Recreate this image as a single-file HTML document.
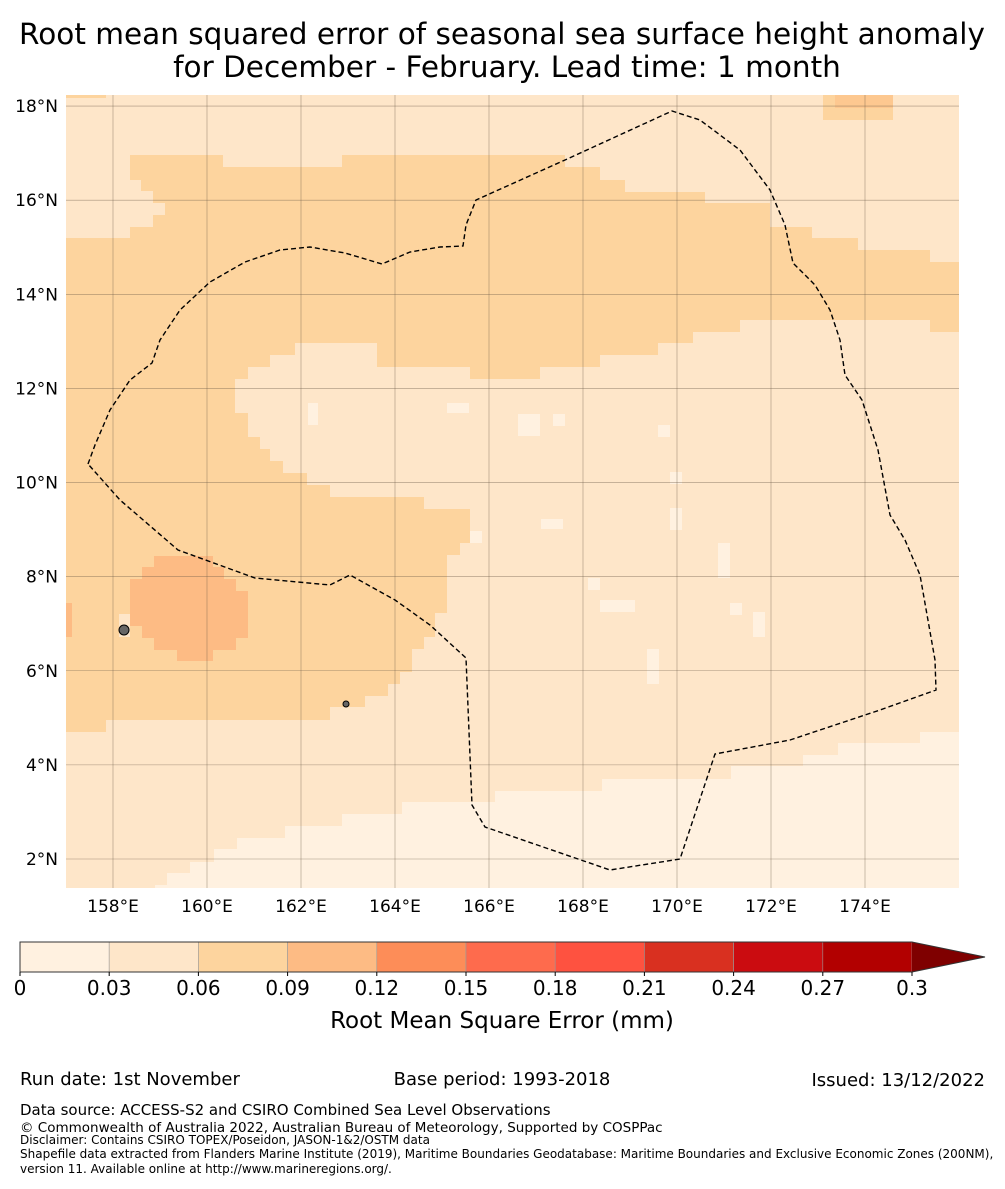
<!DOCTYPE html>
<html><head><meta charset="utf-8">
<style>
body{margin:0;background:#fff;width:1005px;height:1185px;overflow:hidden;font-family:"DejaVu Sans","Liberation Sans",sans-serif;}
svg text{font-family:"DejaVu Sans","Liberation Sans",sans-serif;}
</style></head>
<body>
<svg id="chart" width="1005" height="1185" xmlns="http://www.w3.org/2000/svg">
<text x="502" y="44" font-size="29.5" text-anchor="middle">Root mean squared error of seasonal sea surface height anomaly</text>
<text x="507" y="77" font-size="29.5" text-anchor="middle">for December - February. Lead time: 1 month</text>
<g id="map">
<rect x="66" y="95" width="893" height="793" fill="#fee6c9"/>
<polygon fill="#fdd49e" points="130,155 223,155 223,167 342,167 342,155 565,155 565,167 600,167 600,180 625,180 625,192 670,192 705,192 705,203 770,203 770,227 812,227 812,238 858,238 858,250 930,250 930,262 959,262 959,332 930,332 930,320 740,320 740,332 693,332 693,343 658,343 658,355 600,355 600,367 540,367 540,379 470,379 470,367 377,367 377,343 295,343 295,355 270,355 270,367 248,367 248,379 235,379 235,413 248,413 248,437 260,437 260,449 270,449 270,461 283,461 283,473 307,473 307,485 330,485 330,497 424,497 424,509 470,509 470,543 460,543 460,555 447,555 447,566 447,613 435,613 435,637 424,637 424,649 412,649 412,672 400,672 400,684 388,684 388,696 365,696 365,707 330,707 330,720 106,720 106,732 66,732 66,238 130,238 130,227 153,227 153,215 165,215 165,203 153,203 153,191 141,191 141,180 130,180"/>
<polygon fill="#fff1e0" points="155,888 155,885 167,885 167,873 190,873 190,862 214,862 214,849 237,849 237,838 285,838 285,826 342,826 342,814 402,814 402,802 495,802 495,791 602,791 602,779 731,779 731,766 803,766 803,755 838,755 838,743 920,743 920,732 959,732 959,888"/>
<polygon fill="#fdbb84" points="154,556 213,556 213,567 224,567 224,579 236,579 236,591 248,591 248,638 236,638 236,650 213,650 213,661 177,661 177,650 154,650 154,638 142,638 142,626 130,626 130,579 142,579 142,567 154,567"/>
<rect x="66" y="603" width="6" height="34" fill="#fdbb84"/>
<rect x="119" y="614" width="11" height="23" fill="#fee6c9"/>
<rect x="823" y="95" width="70" height="25" fill="#fdd49e"/>
<rect x="835" y="95" width="58" height="13" fill="#fdc890"/>
<rect x="66" y="95" width="40" height="3" fill="#fdd49e"/>
<g id="spots" fill="#fff1e0"></g>
<g id="grid" stroke="#6b5a48" stroke-width="0.6" stroke-opacity="0.6"></g>
<polyline fill="none" stroke="#000" stroke-width="1.4" stroke-dasharray="5,3" points="88,464 95,445 110,410 130,380 152,363 160,340 180,310 210,282 245,262 280,250 310,247 345,253 382,264 410,252 440,247 463,246 466,225 476,200 565,160 672,111 700,120 740,150 770,190 785,225 793,263 815,285 830,310 840,340 845,375 862,400 878,450 890,515 905,540 920,575 935,660 936,690 880,710 790,740 715,754 680,859 610,870 485,827 472,805 466,658 430,625 395,600 350,575 330,585 255,578 178,550 120,500 88,464"/>
<circle cx="124" cy="630" r="5" fill="#666" stroke="#000"/>
<circle cx="346" cy="704" r="3" fill="#666" stroke="#000"/>
<g id="ticks" font-size="17"></g>
</g>
<g id="cbar"></g>
<text x="502" y="1028" font-size="23" text-anchor="middle">Root Mean Square Error (mm)</text>
<text x="20" y="1085" font-size="18">Run date: 1st November</text>
<text x="502" y="1085" font-size="18" text-anchor="middle">Base period: 1993-2018</text>
<text x="985" y="1086" font-size="18" text-anchor="end">Issued: 13/12/2022</text>
<text x="20" y="1115" font-size="15">Data source: ACCESS-S2 and CSIRO Combined Sea Level Observations</text>
<text x="20" y="1132" font-size="13.5">© Commonwealth of Australia 2022, Australian Bureau of Meteorology, Supported by COSPPac</text>
<text x="20" y="1144" font-size="12">Disclaimer: Contains CSIRO TOPEX/Poseidon, JASON-1&amp;2/OSTM data</text>
<text x="20" y="1158" font-size="12">Shapefile data extracted from Flanders Marine Institute (2019), Maritime Boundaries Geodatabase: Maritime Boundaries and Exclusive Economic Zones (200NM),</text>
<text x="20" y="1173" font-size="12">version 11. Available online at http://www.marineregions.org/.</text>
</svg>
<script>
const lonTicks=[158,160,162,164,166,168,170,172,174];
const latTicks=[2,4,6,8,10,12,14,16,18];
const cbTicks=[0,0.03,0.06,0.09,0.12,0.15,0.18,0.21,0.24,0.27,0.3];
const cbColors=["#fff1e0","#fee6c9","#fdd49e","#fdbb84","#fd8d58","#fe6b4d","#fe5240","#d93020","#cb0c10","#b20000"];
const ns="http://www.w3.org/2000/svg";
function X(lon){return 113+(lon-158)*47;}
function Y(lat){return 859-(lat-2)*47.06;}
function mk(t,a,p){const e=document.createElementNS(ns,t);for(const k in a)e.setAttribute(k,a[k]);p.appendChild(e);return e;}
const grid=document.getElementById('grid'),ticks=document.getElementById('ticks');
lonTicks.forEach(l=>{
const ln=mk('line',{x1:X(l),x2:X(l),y1:95,y2:888},grid);


const t=mk('text',{x:X(l),y:912,'text-anchor':'middle'},ticks);t.textContent=l+'°E';


});
latTicks.forEach(l=>{
const ln=mk('line',{x1:66,x2:959,y1:Y(l),y2:Y(l)},grid);


const t=mk('text',{x:58,y:Y(l)+6,'text-anchor':'end'},ticks);t.textContent=l+'°N';


});
const spotRects=[[308,403,10,22],[447,403,22,10],[518,414,22,22],[553,414,12,12],[658,425,12,12],[670,472,12,12],[670,508,12,22],[541,519,22,10],[470,531,12,12],[588,578,12,12],[600,600,35,12],[647,649,12,35],[718,543,12,35],[730,603,12,12],[753,612,12,25]];
const spots=document.getElementById('spots');
spotRects.forEach(r=>{const e=mk('rect',{x:r[0],y:r[1],width:r[2],height:r[3]},spots);

});
const cb=document.getElementById('cbar');
const cx0=20,cx1=912,cy=942,ch=30;
function CX(v){return cx0+(v/0.3)*(cx1-cx0);}
cbColors.forEach((c,i)=>{const e=mk('rect',{x:CX(cbTicks[i]),y:cy,width:CX(cbTicks[i+1])-CX(cbTicks[i]),height:ch,fill:c,stroke:'#999','stroke-width':0.6},cb);

});
const ar=mk('polygon',{points:`${cx1},${cy} 985,${cy+ch/2} ${cx1},${cy+ch}`,fill:'#7f0000'},cb);


const ol=mk('polygon',{points:`${cx0},${cy} ${cx1},${cy} 985,${cy+ch/2} ${cx1},${cy+ch} ${cx0},${cy+ch}`,fill:'none',stroke:'#333','stroke-width':1},cb);


cbTicks.forEach(v=>{
const tl=mk('line',{x1:CX(v),x2:CX(v),y1:cy+ch,y2:cy+ch+4,stroke:'#000'},cb);


const t=mk('text',{x:CX(v),y:995,'text-anchor':'middle','font-size':20},cb);t.textContent=String(v);


});
</script>
</body></html>
